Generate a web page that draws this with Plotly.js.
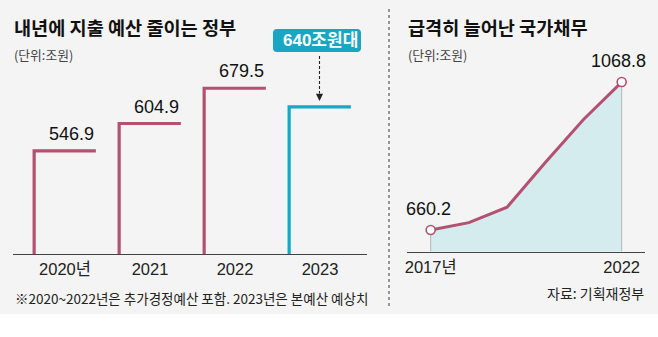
<!DOCTYPE html>
<html>
<head>
<meta charset="utf-8">
<script src="https://cdn.plot.ly/plotly-3.0.1.min.js"></script>
<style>html,body{margin:0;padding:0;background:#fff;}#chart{width:658px;height:337px;}</style>
</head>
<body>
<div id="chart"></div>
<script>
// ---- data ----
const budgetTickText = ['2020년', '2021', '2022', '2023'];
const budgetValues = [546.9, 604.9, 679.5, 640];
const budgetValueLabels = ['546.9', '604.9', '679.5', ''];
const budgetCallout = '640조원대';

const debtYears = [2017, 2018, 2019, 2020, 2021, 2022];
const debtValues = [660.2, 680.5, 723.2, 846.6, 965.3, 1068.8];
const debtTickVals = [2017, 2022];
const debtTickText = ['2017년', '2022'];
const debtValueLabels = ['660.2', '1068.8'];

const leftTitle = '내년에 지출 예산 줄이는 정부';
const rightTitle = '급격히 늘어난 국가채무';
const unitText = '(단위:조원)';
const footnote = '※2020~2022년은 추가경정예산 포함. 2023년은 본예산 예상치';
const sourceText = '자료: 기획재정부';

// ---- style ----
const W = 658, H = 337;
const PINK = 'rgb(180,80,112)';
const CYAN = 'rgb(24,166,196)';
const NUM = '"Liberation Sans Narrow", "Arial Narrow", "Liberation Sans", "Noto Sans CJK KR", sans-serif';
const KR = '"Noto Sans CJK KR", "Noto Sans", sans-serif';
const px = x => x / W;
const py = y => 1 - y / H;

const leftY0 = 329, leftY1 = 781.5;
const rightY0 = 600.8, rightY1 = 1185;
const hw = 0.363;

const traces = [];
const annotations = [];

budgetValues.forEach((v, i) => {
  const last = i === budgetValues.length - 1;
  traces.push({
    type: 'scatter', mode: 'lines', xaxis: 'x', yaxis: 'y',
    x: [i - hw, i - hw, i + hw], y: [leftY0, v, v],
    line: {color: last ? CYAN : PINK, width: 3.2},
    hoverinfo: 'skip', showlegend: false, cliponaxis: false
  });
  if (budgetValueLabels[i]) {
    annotations.push({
      xref: 'x', yref: 'y', x: i + hw, y: v, xanchor: 'right', yanchor: 'bottom',
      yshift: 5, showarrow: false, text: budgetValueLabels[i],
      font: {family: NUM, size: 18, color: '#111'}
    });
  }
});

// right panel
traces.push({
  type: 'scatter', mode: 'lines', xaxis: 'x2', yaxis: 'y2',
  x: debtYears, y: debtValues, fill: 'tozeroy', fillcolor: 'rgb(212,236,238)',
  line: {width: 0}, hoverinfo: 'skip', showlegend: false
});
[0, debtYears.length - 1].forEach(k => {
  traces.push({
    type: 'scatter', mode: 'lines', xaxis: 'x2', yaxis: 'y2',
    x: [debtYears[k], debtYears[k]], y: [rightY0, debtValues[k]],
    line: {color: '#b5b5b5', width: 1}, hoverinfo: 'skip', showlegend: false
  });
});
traces.push({
  type: 'scatter', mode: 'lines', xaxis: 'x2', yaxis: 'y2',
  x: debtYears, y: debtValues, line: {color: PINK, width: 3},
  hoverinfo: 'skip', showlegend: false
});
const ends = [0, debtYears.length - 1];
traces.push({
  type: 'scatter', mode: 'markers', xaxis: 'x2', yaxis: 'y2',
  x: ends.map(k => debtYears[k]), y: ends.map(k => debtValues[k]),
  marker: {size: 9, color: '#fff', line: {color: PINK, width: 1.6}},
  hoverinfo: 'skip', showlegend: false, cliponaxis: false
});
ends.forEach((k, j) => {
  annotations.push({
    xref: 'x2', yref: 'y2', x: debtYears[k], y: debtValues[k],
    xanchor: 'center', yanchor: 'bottom', yshift: 9, xshift: j === 1 ? -3 : -2,
    showarrow: false, text: debtValueLabels[j],
    font: {family: NUM, size: 18, color: '#111'}
  });
});

// titles & notes
function txt(text, x, y, size, opts) {
  annotations.push(Object.assign({
    xref: 'paper', yref: 'paper', x: px(x), y: py(y), xanchor: 'left', yanchor: 'middle',
    showarrow: false, text: text, font: {family: KR, size: size, color: '#111'}
  }, opts || {}));
}
txt('<b>' + leftTitle + '</b>', 12, 27, 18.6);
txt('<b>' + rightTitle + '</b>', 406, 27, 18.6);
txt(unitText, 12, 55, 12.8, {font: {family: KR, size: 12.8, color: '#444'}});
txt(unitText, 406, 55, 12.8, {font: {family: KR, size: 12.8, color: '#444'}});
txt(footnote, 13, 298, 13.5, {font: {family: KR, size: 13.5, color: '#222'}});
txt(sourceText, 646, 293, 14, {xanchor: 'right', font: {family: KR, size: 14, color: '#222'}});

// callout
annotations.push({
  xref: 'x', yref: 'paper', x: budgetValues.length - 1, y: py(40.5),
  xanchor: 'center', yanchor: 'middle', showarrow: false,
  text: '<b>' + budgetCallout + '</b>', font: {family: NUM, size: 17, color: '#fff'}
});
annotations.push({
  xref: 'paper', yref: 'paper', x: px(319.5), y: py(101), ax: 0, ay: -9,
  showarrow: true, arrowhead: 2, arrowsize: 1.3, arrowwidth: 1.1, arrowcolor: '#222', text: ''
});

function roundRect(x0, y0, x1, y1, r) {
  const X = px, Y = py;
  const rx = r / W, ry = r / H;
  return `M${X(x0)+rx},${Y(y0)} L${X(x1)-rx},${Y(y0)} Q${X(x1)},${Y(y0)} ${X(x1)},${Y(y0)-ry} ` +
    `L${X(x1)},${Y(y1)+ry} Q${X(x1)},${Y(y1)} ${X(x1)-rx},${Y(y1)} L${X(x0)+rx},${Y(y1)} ` +
    `Q${X(x0)},${Y(y1)} ${X(x0)},${Y(y1)+ry} L${X(x0)},${Y(y0)-ry} Q${X(x0)},${Y(y0)} ${X(x0)+rx},${Y(y0)} Z`;
}

const shapes = [
  {type: 'rect', xref: 'paper', yref: 'paper', x0: 0, x1: 1, y0: py(314), y1: 1,
   fillcolor: '#f4f4f4', line: {width: 0}, layer: 'below'},
  {type: 'line', xref: 'paper', yref: 'paper', x0: px(389), x1: px(389), y0: py(9), y1: py(309),
   line: {color: '#777', width: 1.5, dash: 'dot'}},
  {type: 'path', xref: 'paper', yref: 'paper', path: roundRect(273, 29, 361, 52, 4),
   fillcolor: CYAN, line: {width: 0}},
  {type: 'line', xref: 'paper', yref: 'paper', x0: px(319.5), x1: px(319.5), y0: py(56), y1: py(93),
   line: {color: '#222', width: 1.1, dash: '3px,2px'}}
];

const layout = {
  width: W, height: H, margin: {l: 0, r: 0, t: 0, b: 0},
  paper_bgcolor: '#fff', plot_bgcolor: 'rgba(0,0,0,0)', showlegend: false,
  xaxis: {domain: [px(13), px(367)], range: [-0.6118, 3.5529], anchor: 'y',
    tickmode: 'array', tickvals: budgetTickText.map((t, i) => i), ticktext: budgetTickText,
    showline: true, linecolor: '#444', linewidth: 1.3, ticks: '', showgrid: false, zeroline: false,
    tickfont: {family: NUM, size: 16.5, color: '#222'}, fixedrange: true},
  yaxis: {domain: [py(254), py(40)], range: [leftY0, leftY1], visible: false, anchor: 'x', fixedrange: true},
  xaxis2: {domain: [px(407), px(645)], range: [2016.38, 2022.61], anchor: 'y2',
    tickmode: 'array', tickvals: debtTickVals, ticktext: debtTickText,
    showline: true, linecolor: '#444', linewidth: 1.2, ticks: '', showgrid: false, zeroline: false,
    tickfont: {family: NUM, size: 16.5, color: '#222'}, fixedrange: true},
  yaxis2: {domain: [py(251.5), py(40)], range: [rightY0, rightY1], visible: false, anchor: 'x2', fixedrange: true},
  annotations: annotations,
  shapes: shapes
};

Plotly.newPlot('chart', traces, layout, {displayModeBar: false, staticPlot: true});
</script>
</body>
</html>
